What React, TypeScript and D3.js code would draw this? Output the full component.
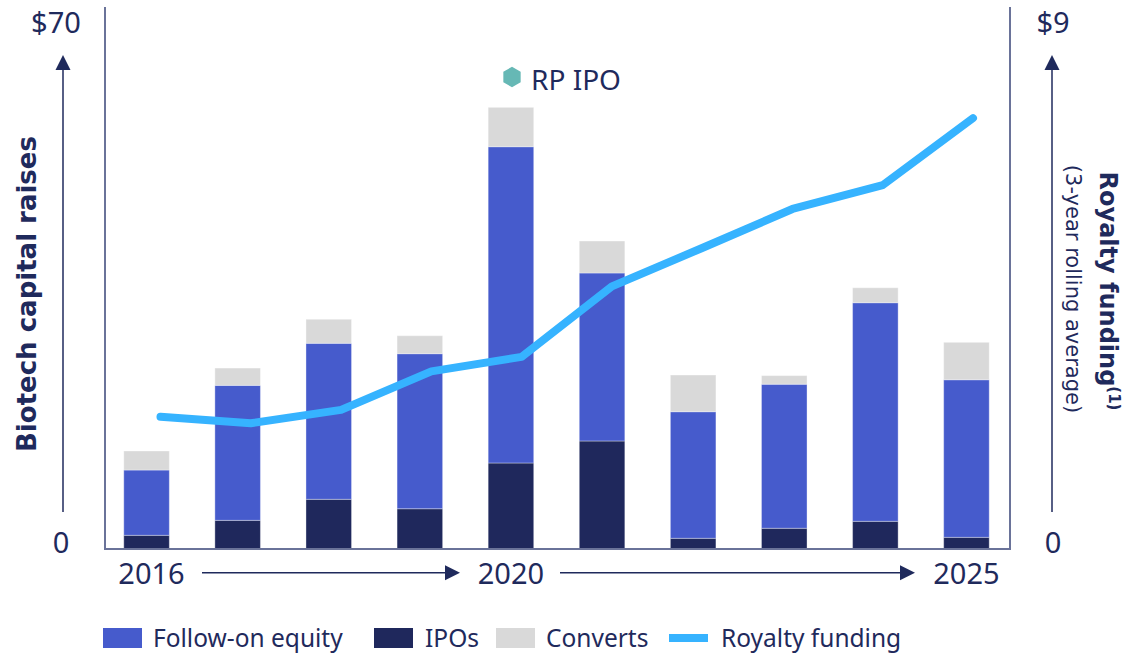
import React from 'react';
import * as d3 from 'd3';

const years = ['2016', '2017', '2018', '2019', '2020', '2021', '2022', '2023', '2024', '2025'];
const ipos = [1.83, 3.83, 6.64, 5.38, 11.49, 14.43, 1.43, 2.77, 3.7, 1.56];
const followOn = [8.72, 18.03, 20.84, 20.71, 42.25, 22.44, 16.91, 19.24, 29.2, 21.05];
const converts = [2.54, 2.31, 3.21, 2.4, 5.26, 4.27, 4.9, 1.15, 2.0, 5.0];
const royalty = [2.27, 2.16, 2.39, 3.05, 3.3, 4.51, 5.17, 5.84, 6.25, 7.4];
const xLabels = ['2016', '2020', '2025'];
const leftTicks = [0, 70];
const rightTicks = [0, 9];

const NAVY = '#1f2a5c';
const FO = '#465bcc';
const IPO = '#1f285c';
const CONV = '#d9d9d9';
const LINE = '#36b3ff';
const FRAME = '#6a7399';
const SANS = "'Noto Sans', sans-serif";
const BOLD = "'DejaVu Sans', sans-serif";

export default function App() {
  const W = 1128, H = 653;
  const x = d3.scaleBand<string>().domain(years).range([101, 1012]).paddingInner(0.5).paddingOuter(0.25);
  const xLine = d3.scalePoint<string>().domain(years).range([160.5, 973]);
  const yL = d3.scaleLinear().domain([0, 70]).range([549, 25]);
  const yR = d3.scaleLinear().domain([0, 9]).range([549, 25]);

  const rows = years.map((yr, i) => ({ yr, ipo: ipos[i], fo: followOn[i], cv: converts[i] }));
  const stack = d3.stack<any>().keys(['ipo', 'fo', 'cv'])(rows);
  const colors: Record<string, string> = { ipo: IPO, fo: FO, cv: CONV };

  const line = d3.line<number>().x((_, i) => xLine(years[i]) as number).y((d) => yR(d));

  const bw = x.bandwidth();

  return (
    <svg width={W} height={H} style={{ position: 'absolute', left: 0, top: 0, background: '#fff' }}>
      {stack.map((s) => (
        <g key={s.key}>
          {s.map((d, i) => (
            <rect
              key={i}
              x={x(years[i])}
              y={yL(d[1])}
              width={bw}
              height={yL(d[0]) - yL(d[1])}
              fill={colors[s.key]}
              stroke="#ffffff"
              strokeOpacity={0.35}
              strokeWidth={1}
            />
          ))}
        </g>
      ))}

      {/* frame */}
      <line x1={105} x2={105} y1={7} y2={549} stroke={FRAME} strokeWidth={2} />
      <line x1={1010} x2={1010} y1={7} y2={549} stroke={FRAME} strokeWidth={2} />
      <line x1={104} x2={1011} y1={549} y2={549} stroke={FRAME} strokeWidth={2} />

      <path d={line(royalty) || ''} fill="none" stroke={LINE} strokeWidth={8} strokeLinecap="round" strokeLinejoin="round" />

      {/* left axis */}
      {leftTicks.map((t) => (
        <text key={t} x={t === 0 ? 61 : 56} y={yL(t) + (t === 0 ? 4 : 8)} textAnchor="middle" fontFamily={SANS} fontSize={29} fill={NAVY}>
          {t === 0 ? '0' : `$${t}`}
        </text>
      ))}
      <line x1={63} x2={63} y1={66} y2={512} stroke={NAVY} strokeWidth={1.5} />
      <polygon points="63,55 55.5,70 70.5,70" fill={NAVY} />
      <text transform="translate(36,294) rotate(-90)" textAnchor="middle" fontFamily={BOLD} fontWeight="bold" fontSize={26} fill={NAVY}>
        Biotech capital raises
      </text>

      {/* right axis */}
      {rightTicks.map((t) => (
        <text key={t} x={1053} y={yR(t) + (t === 0 ? 4 : 8)} textAnchor="middle" fontFamily={SANS} fontSize={29} fill={NAVY}>
          {t === 0 ? '0' : `$${t}`}
        </text>
      ))}
      <line x1={1052} x2={1052} y1={66} y2={512} stroke={NAVY} strokeWidth={1.5} />
      <polygon points="1052,55 1044.5,70 1059.5,70" fill={NAVY} />
      <text transform="translate(1100,291) rotate(90)" textAnchor="middle" fontFamily={BOLD} fontWeight="bold" fontSize={24} fill={NAVY}>
        Royalty funding
        <tspan fontSize={15} dy={-9}>(1)</tspan>
      </text>
      <text transform="translate(1066,289) rotate(90)" textAnchor="middle" fontFamily={BOLD} fontSize={21} fill={NAVY}>
        (3-year rolling average)
      </text>

      {/* x labels */}
      {xLabels.map((l) => (
        <text key={l} x={(x(l) as number) + bw / 2 + (l === '2016' ? 5 : 0)} y={584} textAnchor="middle" fontFamily={SANS} fontSize={29} fill={NAVY}>
          {l}
        </text>
      ))}
      <line x1={202} x2={448} y1={572.7} y2={572.7} stroke={NAVY} strokeWidth={1.5} />
      <polygon points="460,572.7 445,565.2 445,580.2" fill={NAVY} />
      <line x1={560} x2={903} y1={572.7} y2={572.7} stroke={NAVY} strokeWidth={1.5} />
      <polygon points="915,572.7 900,565.2 900,580.2" fill={NAVY} />

      {/* RP IPO annotation */}
      <polygon
        points={d3.range(6).map((k) => {
          const a = (Math.PI / 3) * k - Math.PI / 2;
          return `${512 + 10 * Math.cos(a)},${77 + 10.3 * Math.sin(a)}`;
        }).join(' ')}
        fill="#66b8b5"
      />
      <text x={531} y={90} fontFamily={SANS} fontSize={28} fill={NAVY}>RP IPO</text>

      {/* legend */}
      <rect x={103} y={628} width={39} height={20} fill={FO} />
      <text x={153} y={647} fontFamily={SANS} fontSize={24.5} fill={NAVY}>Follow-on equity</text>
      <rect x={374} y={628} width={39} height={20} fill={IPO} />
      <text x={425} y={647} fontFamily={SANS} fontSize={24.5} fill={NAVY}>IPOs</text>
      <rect x={496} y={628} width={39} height={20} fill={CONV} />
      <text x={546} y={647} fontFamily={SANS} fontSize={24.5} fill={NAVY}>Converts</text>
      <line x1={669} x2={708} y1={638} y2={638} stroke={LINE} strokeWidth={8} />
      <text x={721} y={647} fontFamily={SANS} fontSize={24.5} fill={NAVY}>Royalty funding</text>
    </svg>
  );
}
